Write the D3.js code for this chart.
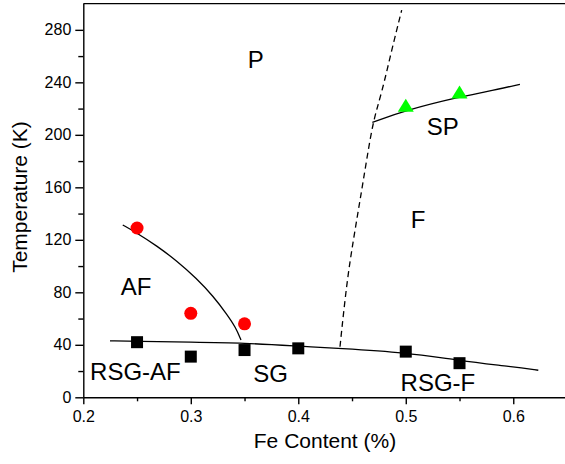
<!DOCTYPE html>
<meta charset="utf-8">
<style>
body { margin: 0; background: #fff; }
svg text { font-family: "Liberation Sans", Arial, sans-serif; fill: #000; }
.axis path, .axis line { stroke: #000; stroke-width: 1.4px; }
.axis text { font-size: 16px; }
.curve { fill: none; stroke: #000; stroke-width: 1.3px; }
</style>
<body>
<script src="https://cdn.jsdelivr.net/npm/d3@7"></script>
<script>

var width = 565;
var height = 464;

// ticks
var xTicks = [0.2, 0.3, 0.4, 0.5, 0.6];
var xMinor = [0.25, 0.35, 0.45, 0.55, 0.65];
var yTicks = [0, 40, 80, 120, 160, 200, 240, 280];
var yMinor = [20, 60, 100, 140, 180, 220, 260];

// measured points
var afX = [0.25, 0.30, 0.35];
var afT = [129, 64, 56];          // red circles
var spX = [0.50, 0.55];
var spT = [221.7, 231.8];         // green triangles
var sgX = [0.25, 0.30, 0.35, 0.40, 0.50, 0.55];
var sgT = [42, 31, 36, 37.3, 34.8, 26];   // black squares

// boundary lines
var afLineX = [0.2367, 0.2497, 0.2683, 0.2869, 0.3055, 0.3209, 0.3334, 0.3420, 0.3467];
var afLineT = [131.3, 125.3, 115.5, 104, 90.5, 77, 63.5, 53, 43.7];
var sgLineX = [0.2248, 0.25, 0.30, 0.35, 0.40, 0.437, 0.50, 0.55, 0.60, 0.6233];
var sgLineT = [43, 42.6, 42, 41.4, 39, 37.3, 34.2, 27.9, 23.2, 20.6];
var spLineX = [0.4689, 0.5005, 0.5503, 0.575, 0.6062];
var spLineT = [209.5, 218.9, 229, 232.8, 238.5];
var fLineX = [0.4388, 0.4450, 0.4512, 0.4575, 0.4636, 0.4698, 0.4776, 0.4869, 0.4962];
var fLineT = [38.5, 86.9, 119.8, 150.3, 180.8, 211.3, 231.6, 264.6, 295];

// region labels
var regionNames = ["P", "SP", "F", "AF", "RSG-AF", "SG", "RSG-F"];
var regionX = [0.3605, 0.5344, 0.5115, 0.2492, 0.2485, 0.3742, 0.5299];
var regionT = [251, 200, 129, 78, 13, 12, 5];

var svg = d3.select("body").append("svg")
    .attr("width", width)
    .attr("height", height);

var x = d3.scaleLinear().domain([0.2, 0.65]).range([83.3, 567]);
var y = d3.scaleLinear().domain([0, 300]).range([397.3, 3.6]);

// top frame line
svg.append("line")
    .attr("x1", x(0.2)).attr("x2", x(0.65))
    .attr("y1", y(300)).attr("y2", y(300))
    .attr("stroke", "#000").attr("stroke-width", 1.4);

// minor ticks first
svg.append("g").attr("class", "axis")
    .attr("transform", "translate(0," + y(0) + ")")
    .call(d3.axisBottom(x).tickValues(xMinor).tickSize(4).tickFormat(""))
    .select(".domain").remove();
svg.append("g").attr("class", "axis")
    .attr("transform", "translate(" + x(0.2) + ",0)")
    .call(d3.axisLeft(y).tickValues(yMinor).tickSize(5).tickFormat(""))
    .select(".domain").remove();

svg.append("g").attr("class", "axis")
    .attr("transform", "translate(0," + y(0) + ")")
    .call(d3.axisBottom(x).tickValues(xTicks).tickSize(7).tickSizeOuter(0).tickPadding(6)
      .tickFormat(d3.format(".1f")));
svg.append("g").attr("class", "axis")
    .attr("transform", "translate(" + x(0.2) + ",0)")
    .call(d3.axisLeft(y).tickValues(yTicks).tickSize(8).tickSizeOuter(0).tickPadding(4));

// axis titles
svg.append("text")
    .attr("x", 325).attr("y", 448)
    .attr("text-anchor", "middle")
    .style("font-size", "21px")
    .text("Fe Content (%)");
svg.append("text")
    .attr("transform", "translate(27,197) rotate(-90)")
    .attr("text-anchor", "middle")
    .style("font-size", "21px")
    .text("Temperature (K)");

function pts(xs, ts) { return xs.map(function(v, i) { return [v, ts[i]]; }); }

var line = d3.line()
    .x(function(d) { return x(d[0]); })
    .y(function(d) { return y(d[1]); })
    .curve(d3.curveBasis);

svg.append("path").attr("class", "curve").attr("d", line(pts(afLineX, afLineT)));
svg.append("path").attr("class", "curve").attr("d", line(pts(sgLineX, sgLineT)));
svg.append("path").attr("class", "curve").attr("d", line(pts(spLineX, spLineT)));
svg.append("path").attr("class", "curve")
    .attr("stroke-dasharray", "6,4")
    .attr("d", line(pts(fLineX, fLineT)));

// markers
svg.append("g").selectAll("circle")
    .data(pts(afX, afT))
  .enter().append("circle")
    .attr("cx", function(d) { return x(d[0]); })
    .attr("cy", function(d) { return y(d[1]); })
    .attr("r", 6.5)
    .attr("fill", "#ff0000");

svg.append("g").selectAll("rect")
    .data(pts(sgX, sgT))
  .enter().append("rect")
    .attr("x", function(d) { return x(d[0]) - 6; })
    .attr("y", function(d) { return y(d[1]) - 6; })
    .attr("width", 12).attr("height", 12)
    .attr("fill", "#000");

svg.append("g").selectAll("path")
    .data(pts(spX, spT))
  .enter().append("path")
    .attr("transform", function(d) { return "translate(" + x(d[0]) + "," + y(d[1]) + ")"; })
    .attr("d", "M0,-7.5L8,5.5L-8,5.5Z")
    .attr("fill", "#00ff00");

// region labels
svg.append("g").selectAll("text")
    .data(regionNames)
  .enter().append("text")
    .attr("x", function(d, i) { return x(regionX[i]); })
    .attr("y", function(d, i) { return y(regionT[i]); })
    .attr("text-anchor", "middle")
    .style("font-size", "24px")
    .text(function(d) { return d; });

</script>
</body>
</html>
